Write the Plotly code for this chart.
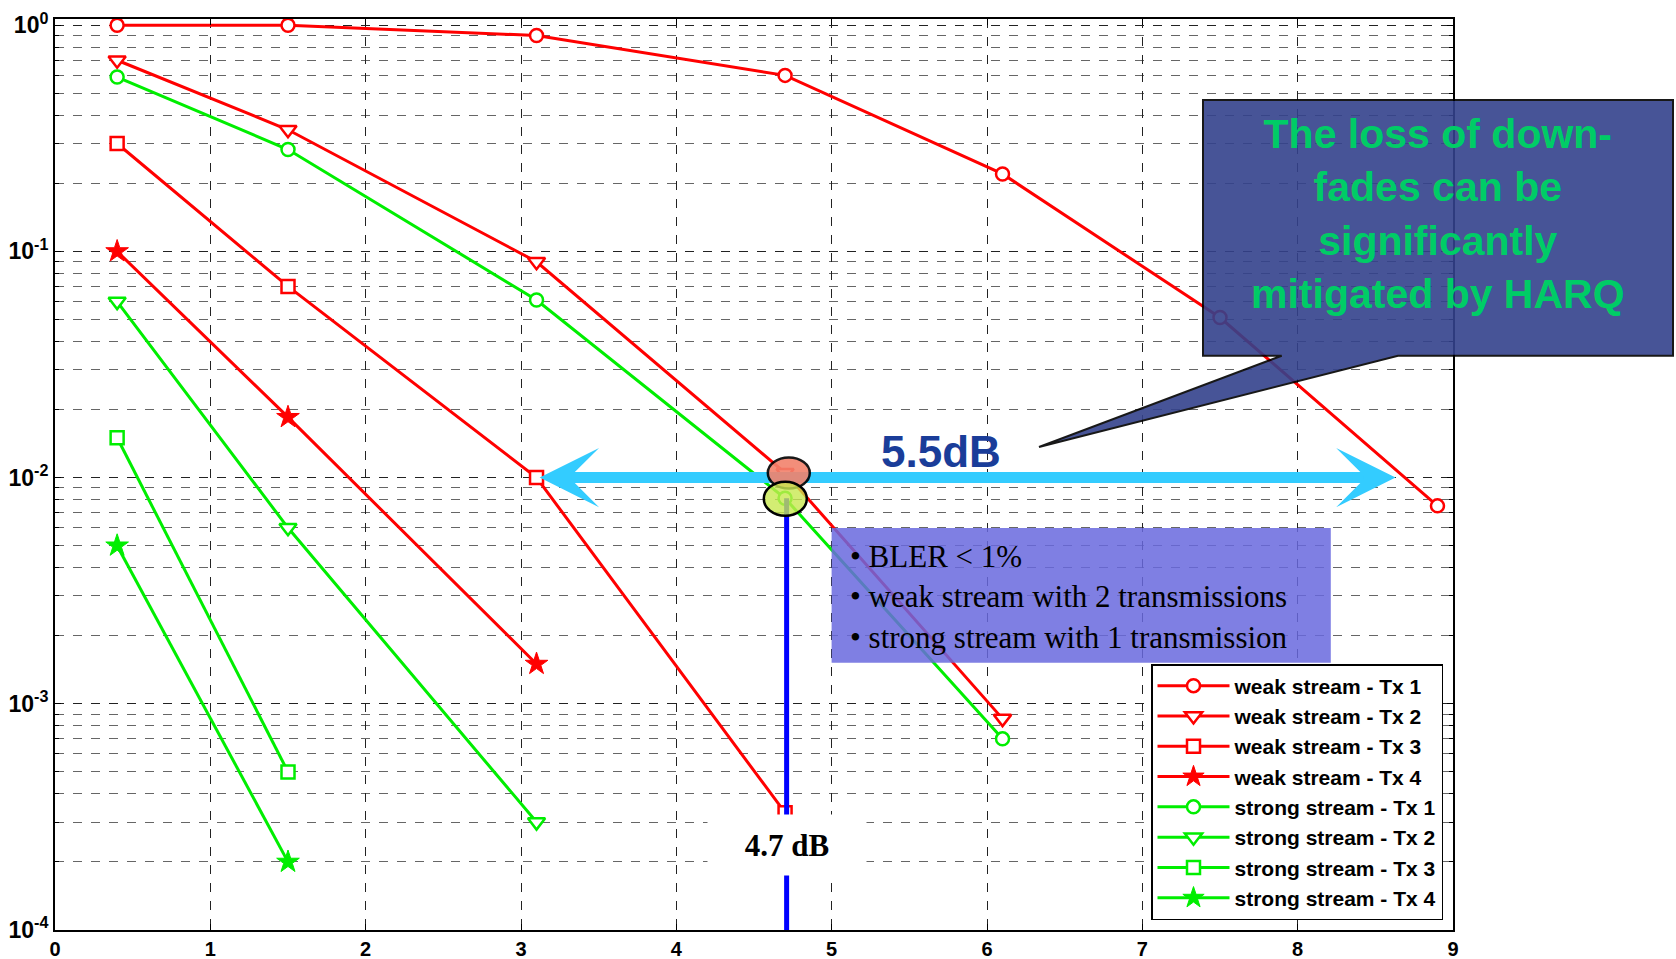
import numpy as np
import plotly.graph_objects as go

# ---------------- data ----------------
weak_tx1_x = [0.4, 1.5, 3.1, 4.7, 6.1, 7.5, 8.9]
weak_tx1_y = [1.0, 1.0, 0.90, 0.60, 0.22, 0.051, 0.0075]
weak_tx2_x = [0.4, 1.5, 3.1, 4.7, 6.1]
weak_tx2_y = [0.70, 0.345, 0.090, 0.0105, 0.00086]
weak_tx3_x = [0.4, 1.5, 3.1, 4.7]
weak_tx3_y = [0.30, 0.070, 0.010, 0.00033]
weak_tx4_x = [0.4, 1.5, 3.1]
weak_tx4_y = [0.10, 0.0185, 0.0015]
strong_tx1_x = [0.4, 1.5, 3.1, 4.7, 6.1]
strong_tx1_y = [0.59, 0.282, 0.061, 0.0081, 0.00070]
strong_tx2_x = [0.4, 1.5, 3.1]
strong_tx2_y = [0.060, 0.0060, 0.00030]
strong_tx3_x = [0.4, 1.5]
strong_tx3_y = [0.015, 0.0005]
strong_tx4_x = [0.4, 1.5]
strong_tx4_y = [0.005, 0.0002]

series_names = ["weak stream - Tx 1", "weak stream - Tx 2", "weak stream - Tx 3", "weak stream - Tx 4",
                "strong stream - Tx 1", "strong stream - Tx 2", "strong stream - Tx 3", "strong stream - Tx 4"]

y_tickvals = [1e-4, 1e-3, 1e-2, 1e-1, 1e0]
y_ticktext = ["10<sup>-4</sup>", "10<sup>-3</sup>", "10<sup>-2</sup>", "10<sup>-1</sup>", "10<sup>0</sup>"]
x_tickvals = [0, 1, 2, 3, 4, 5, 6, 7, 8, 9]

# ---------------- layout geometry ----------------
W, H = 1676, 959
L, R, T, B = 55, 1453, 19, 930   # plot area in pixels

def px(xp):
    return (xp - L) / (R - L)

def py(yp):
    return (B - yp) / (B - T)

RED = "#FF0000"
GREEN = "#00EE00"

fig = go.Figure()

specs = [
    (weak_tx1_x, weak_tx1_y, RED, "circle", 13),
    (weak_tx2_x, weak_tx2_y, RED, "triangle-down", 15),
    (weak_tx3_x, weak_tx3_y, RED, "square", 13),
    (weak_tx4_x, weak_tx4_y, RED, "star", 17),
    (strong_tx1_x, strong_tx1_y, GREEN, "circle", 13),
    (strong_tx2_x, strong_tx2_y, GREEN, "triangle-down", 15),
    (strong_tx3_x, strong_tx3_y, GREEN, "square", 13),
    (strong_tx4_x, strong_tx4_y, GREEN, "star", 17),
]
for i, (xs, ys, col, sym, sz) in enumerate(specs):
    filled = sym == "star"
    fig.add_trace(go.Scatter(
        x=xs, y=ys, mode="lines+markers", name=series_names[i], legendgroup=f"g{i}",
        line=dict(color=col, width=3),
        marker=dict(symbol=sym, size=sz, color=col if filled else "white",
                    line=dict(color=col, width=2.5 if not filled else 1)),
    ))

shapes = []
# cyan double-arrow shaft
shapes.append(dict(type="line", xref="x", yref="y", x0=3.35, x1=8.4, y0=0.01, y1=0.01,
                   line=dict(color="#33CCFF", width=11), layer="above"))
# blue vertical marker line
shapes.append(dict(type="line", xref="x", yref="y", x0=4.71, x1=4.71, y0=0.0081, y1=1e-4,
                   line=dict(color="#0000FF", width=5), layer="above"))
# BLER box
shapes.append(dict(type="rect", xref="paper", yref="paper",
                   x0=px(831.6), x1=px(1330.8), y0=py(662.7), y1=py(528),
                   fillcolor="rgb(105,105,222)", opacity=0.85, line=dict(width=0), layer="above"))
# HARQ callout box with tail
path = (f"M{px(1203)},{py(100)} L{px(1673)},{py(100)} L{px(1673)},{py(355.7)} "
        f"L{px(1398)},{py(355.7)} L{px(1039)},{py(447)} L{px(1281.7)},{py(355.7)} "
        f"L{px(1203)},{py(355.7)} Z")
shapes.append(dict(type="path", xref="paper", yref="paper", path=path,
                   fillcolor="rgb(52,66,140)", opacity=0.9, line=dict(color="black", width=2),
                   layer="above"))
# ellipses
shapes.append(dict(type="circle", xref="paper", yref="paper",
                   x0=px(767.8), x1=px(809.8), y0=py(488.5), y1=py(457.5),
                   fillcolor="rgb(242,130,108)", opacity=0.9, line=dict(color="black", width=2.5),
                   layer="above"))
shapes.append(dict(type="circle", xref="paper", yref="paper",
                   x0=px(763.8), x1=px(806.8), y0=py(515.7), y1=py(481.7),
                   fillcolor="rgba(200,232,80,0.8)", line=dict(color="black", width=2.5),
                   layer="above"))

annotations = [
    # arrow heads
    dict(x=3.12, y=-2, xref="x", yref="y", ax=45, ay=0, text="", showarrow=True,
         arrowhead=3, arrowsize=0.9, arrowwidth=11, arrowcolor="#33CCFF"),
    dict(x=8.63, y=-2, xref="x", yref="y", ax=-45, ay=0, text="", showarrow=True,
         arrowhead=3, arrowsize=0.9, arrowwidth=11, arrowcolor="#33CCFF"),
    # 5.5dB
    dict(x=px(940.6), y=py(451), xref="paper", yref="paper", xanchor="center", yanchor="middle",
         text="5.5dB", showarrow=False,
         font=dict(family="Liberation Sans, Arial", weight="bold", size=44, color="#1A3D99")),
    # 4.7 dB
    dict(x=4.71, y=float(np.log10(0.000238)), xref="x", yref="y", xanchor="center", yanchor="middle",
         text="4.7 dB", showarrow=False, bgcolor="white", width=156, height=58,
         font=dict(family="Liberation Serif, Times New Roman", weight="bold", size=31, color="black")),
    # BLER text
    dict(x=px(848), y=py(597), xref="paper", yref="paper", xanchor="left", yanchor="middle",
         align="left", showarrow=False,
         text="• BLER &lt; 1%<br>• weak stream with 2 transmissions<br>• strong stream with 1 transmission",
         font=dict(family="Liberation Serif, Times New Roman", size=31, color="black")),
    # HARQ text
    dict(x=px(1438), y=py(214), xref="paper", yref="paper", xanchor="center", yanchor="middle",
         showarrow=False, align="center",
         text="The loss of down-<br>fades can be<br>significantly<br>mitigated by HARQ",
         font=dict(family="Liberation Sans, Arial", weight="bold", size=41, color="#00CC66")),
]

fig.update_layout(
    template="none",
    width=W, height=H,
    margin=dict(l=L, r=W - R, t=T, b=H - B, pad=0),
    paper_bgcolor="white", plot_bgcolor="white",
    showlegend=True,
    legend=dict(x=px(1443), y=py(920), xanchor="right", yanchor="bottom",
                bgcolor="white", bordercolor="black", borderwidth=1.5,
                font=dict(family="Liberation Sans, Arial", weight="bold", size=21, color="black"),
                tracegroupgap=0, itemwidth=72),
    shapes=shapes,
    annotations=annotations,
)

fig.update_xaxes(
    range=[0, 9], tickvals=x_tickvals, showgrid=True, gridcolor="#222", griddash="dash", gridwidth=1,
    showline=True, linecolor="black", linewidth=2, mirror="ticks",
    ticks="inside", ticklen=6, tickcolor="black", zeroline=False, automargin=False,
    tickfont=dict(family="Liberation Sans, Arial", weight="bold", size=20, color="black"),
)
fig.update_yaxes(
    type="log", range=[-4, (B - T) / 226.2 - 4], tickvals=y_tickvals, ticktext=y_ticktext,
    showgrid=True, gridcolor="#222", griddash="dash", gridwidth=1,
    minor=dict(dtick="D1", showgrid=True, gridcolor="#666", griddash="dash",
               ticks="inside", ticklen=4, tickcolor="black"),
    showline=True, linecolor="black", linewidth=2, mirror="ticks",
    ticks="inside", ticklen=6, tickcolor="black", zeroline=False, automargin=False,
    tickfont=dict(family="Liberation Sans, Arial", weight="bold", size=23, color="black"),
)

fig.write_html("out.html")
